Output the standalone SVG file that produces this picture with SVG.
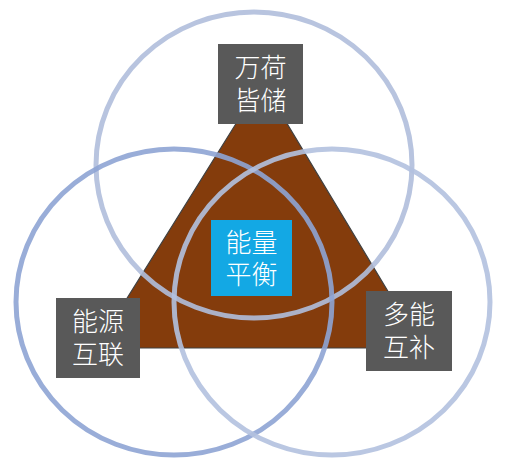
<svg xmlns="http://www.w3.org/2000/svg" width="506" height="465" viewBox="0 0 506 465">
<style>
.box{fill:#595959}
.ring{fill:none;stroke-width:5}
.lbl{fill:#ffffff;font-family:"Noto Sans CJK SC","Noto Sans",sans-serif;font-size:26px;font-weight:300;text-anchor:middle}
</style>
<rect width="506" height="465" fill="#ffffff"/>
<g id="triangle">
<polygon points="262,82 96,348 422,348" fill="#843c0c" stroke="#404040" stroke-width="1.2"/>
</g>
<g id="connectors">
<ellipse class="ring" cx="254" cy="165" rx="158" ry="153" stroke="#b0bedc" stroke-opacity="0.9"/>
<ellipse class="ring" cx="174" cy="302" rx="158" ry="153" stroke="#8ea4d4" stroke-opacity="0.9"/>
<ellipse class="ring" cx="332" cy="302" rx="158" ry="153" stroke="#b3c1df" stroke-opacity="0.9"/>
</g>
<g id="node-top">
<rect class="box" x="218" y="44" width="85" height="80"/>
<text class="lbl" x="260.5" y="77">万荷<tspan x="260.5" dy="33">皆储</tspan></text>
</g>
<g id="node-left">
<rect class="box" x="56" y="298" width="84" height="80"/>
<text class="lbl" x="98" y="331">能源<tspan x="98" dy="33">互联</tspan></text>
</g>
<g id="node-right">
<rect class="box" x="366" y="291" width="86" height="80"/>
<text class="lbl" x="409" y="324">多能<tspan x="409" dy="33">互补</tspan></text>
</g>
<g id="node-center">
<rect x="211" y="220" width="81" height="76" fill="#13a8e4"/>
<text class="lbl" x="251.5" y="252">能量<tspan x="251.5" dy="32">平衡</tspan></text>
</g>
</svg>
